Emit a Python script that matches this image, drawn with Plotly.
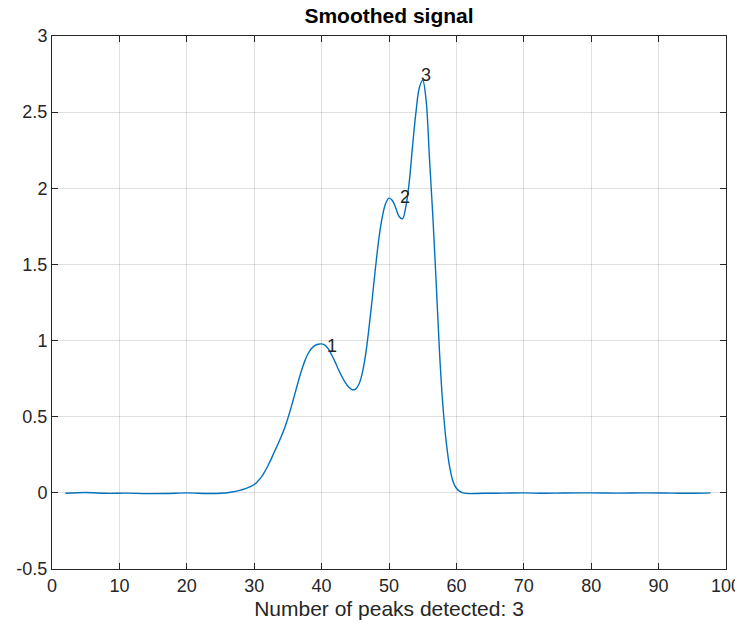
import plotly.graph_objects as go

x_vals = [2, 5, 8, 11, 14, 17, 20, 23, 25, 26.5, 28, 28.5, 29, 29.5, 30, 30.5, 31, 31.5, 32, 32.5, 33, 33.5,
          34, 34.5, 35, 35.5, 36, 36.5, 37, 37.5, 38, 38.5, 39, 39.5, 40, 40.5, 41, 41.5, 42, 42.5, 43,
          43.5, 44, 44.5, 45, 45.5, 46, 46.5, 47, 47.5, 48, 48.5, 49, 49.5, 50, 50.5, 51, 51.5, 52, 52.5,
          53, 53.5, 54, 54.5, 55, 55.5, 56, 56.5, 57, 57.5, 58, 58.5, 59, 59.5, 60, 60.5, 61, 62, 64, 67,
          70, 73, 76, 80, 84, 88, 92, 95, 97.7]
y_vals = [-0.003, 0.002, -0.003, -0.002, -0.005, -0.004, 0.0, -0.004, -0.003, 0.004, 0.018, 0.025, 0.033,
          0.043, 0.055, 0.075, 0.10, 0.135, 0.175, 0.22, 0.27, 0.318, 0.368, 0.425, 0.49, 0.565, 0.645,
          0.725, 0.80, 0.865, 0.915, 0.948, 0.967, 0.976, 0.978, 0.97, 0.945, 0.905, 0.86, 0.81, 0.765,
          0.725, 0.695, 0.678, 0.68, 0.71, 0.78, 0.90, 1.07, 1.27, 1.48, 1.67, 1.81, 1.90, 1.935, 1.92,
          1.87, 1.815, 1.80, 1.88, 2.04, 2.28, 2.50, 2.66, 2.71, 2.58, 2.20, 1.82, 1.38, 0.92, 0.57, 0.33,
          0.17, 0.075, 0.03, 0.01, 0.0, -0.005, -0.003, -0.002, 0.0, -0.003, -0.001, 0.0, -0.002, 0.0,
          -0.002, -0.003, 0.0]

peak_labels = ["1", "2", "3"]
peak_x = [40.5, 51.3, 54.45]
peak_y = [0.965, 1.94, 2.745]

x_ticks = [0, 10, 20, 30, 40, 50, 60, 70, 80, 90, 100]
y_ticks = [-0.5, 0, 0.5, 1, 1.5, 2, 2.5, 3]
y_tick_text = ["-0.5", "0", "0.5", "1", "1.5", "2", "2.5", "3"]

FONT = "Liberation Sans, Arial, sans-serif"
AX = "#262626"

fig = go.Figure()
fig.add_trace(go.Scatter(x=x_vals, y=y_vals, mode="lines",
                         line=dict(color="#0072BD", width=1.4, shape="spline", smoothing=1.0),
                         hoverinfo="skip", showlegend=False))

for lab, px, py in zip(peak_labels, peak_x, peak_y):
    fig.add_annotation(x=px, y=py, text=lab, showarrow=False, xanchor="left", yanchor="middle",
                       font=dict(family=FONT, size=18, color=AX))

axis_common = dict(showline=True, mirror="ticks", linecolor=AX, linewidth=1,
                   ticks="inside", ticklen=6, tickcolor=AX, tickwidth=1,
                   showgrid=True, gridcolor="rgba(38,38,38,0.15)", gridwidth=1,
                   zeroline=False, automargin=False,
                   tickfont=dict(family=FONT, size=18, color=AX))

# page body has an 8px default margin, so the figure is drawn from (8, 8)
W, H = 735, 630
fig.update_layout(
    width=W, height=H,
    margin=dict(l=44, r=17, t=28, b=69),
    paper_bgcolor="white", plot_bgcolor="white",
    title=dict(text="<b>Smoothed signal</b>", x=(44 + (W - 17)) / 2 / W, xanchor="center",
               y=1, yanchor="top", pad=dict(t=0, b=0),
               font=dict(family=FONT, size=21, color="black")),
    xaxis=dict(range=[0, 100], tickvals=x_ticks, ticktext=[str(t) for t in x_ticks],
               title=dict(text="Number of peaks detected: 3", standoff=6,
                          font=dict(family=FONT, size=21, color=AX)),
               **axis_common),
    yaxis=dict(range=[-0.5, 3], tickvals=y_ticks, ticktext=y_tick_text, **axis_common),
)

fig.write_html("out.html")
